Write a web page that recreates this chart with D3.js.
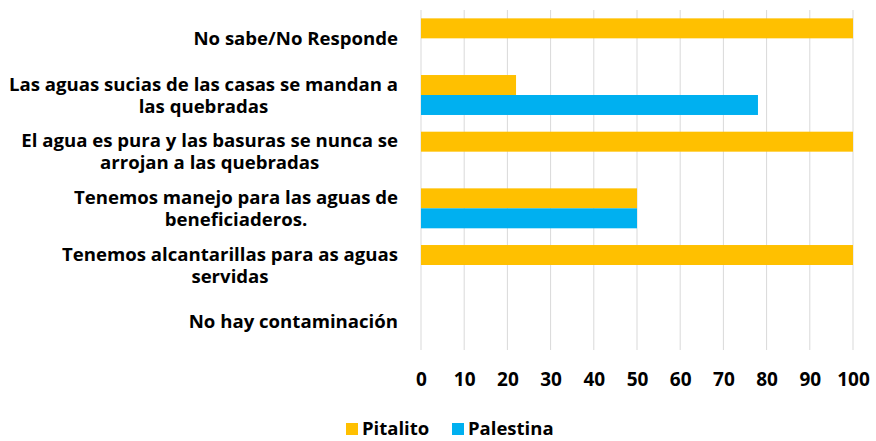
<!DOCTYPE html>
<html>
<head>
<meta charset="utf-8">
<script src="https://cdn.jsdelivr.net/npm/d3@7"></script>
<style>
  body { margin: 0; background: #fff; }
  text { font-family: "Open Sans", sans-serif; font-weight: bold; fill: #000; }
</style>
</head>
<body>
<div id="chart"></div>
<script>
// categories, top to bottom (line breaks as wrapped in the original)
var categories = [
    "No sabe/No Responde",
    "Las aguas sucias de las casas se mandan a\nlas quebradas",
    "El agua es pura y las basuras se nunca se\narrojan a las quebradas",
    "Tenemos manejo para las aguas de\nbeneficiaderos.",
    "Tenemos alcantarillas para as aguas\nservidas",
    "No hay contaminación"
];
var seriesNames = ["Pitalito", "Palestina"];
var pitalito = [100, 22, 100, 50, 100, 0];
var palestina = [0, 78, 0, 50, 0, 0];
var xTicks = [0, 10, 20, 30, 40, 50, 60, 70, 80, 90, 100];
var colors = ["#FFC000", "#00B0F0"];

var W = 876, H = 441;
var margin = {top: 10, right: 23, bottom: 91, left: 421};
var width = W - margin.left - margin.right;
var height = H - margin.top - margin.bottom;
var fontSize = "18.6px";

var svg = d3.select("#chart")
    .append("svg")
    .attr("width", W)
    .attr("height", H);

var g = svg.append("g")
    .attr("transform", `translate(${margin.left},${margin.top})`);

var x = d3.scaleLinear().domain([0, 100]).range([0, width]);
var y = d3.scaleBand().domain(d3.range(categories.length)).range([0, height])
    .paddingInner(0.295).paddingOuter(0.1475);
var ySub = d3.scaleBand().domain([0, 1]).range([0, y.bandwidth()]);

// gridlines
g.selectAll(".grid")
    .data(xTicks)
    .enter()
    .append("line")
    .attr("x1", d => x(d))
    .attr("x2", d => x(d))
    .attr("y1", 0)
    .attr("y2", height)
    .attr("stroke", "#d9d9d9")
    .attr("stroke-width", 1);

// bars
var series = [pitalito, palestina];
series.forEach(function(vals, s) {
    g.selectAll(".bar" + s)
        .data(vals)
        .enter()
        .append("rect")
        .attr("x", x(0))
        .attr("y", (d, i) => y(i) + ySub(s))
        .attr("width", d => x(d) - x(0))
        .attr("height", ySub.bandwidth())
        .attr("fill", colors[s]);
});

// x tick labels
var xAxis = d3.axisBottom(x).tickValues(xTicks).tickSize(0).tickPadding(0);
var ax = g.append("g")
    .attr("transform", `translate(0,${height + 24})`)
    .call(xAxis);
ax.select(".domain").remove();
ax.selectAll("text")
    .attr("dy", "0.35em")
    .attr("y", 5)
    .style("font-size", "19px")
    .style("font-family", "'Open Sans', sans-serif")
    .style("font-weight", "bold");

// category labels (wrapped lines centred on each other, block right-aligned)
var labelRight = margin.left - 23;
var lineH = 22;
categories.forEach(function(c, i) {
    var lines = c.split("\n");
    var cy = margin.top + y(i) + y.bandwidth() / 2;
    var t = svg.append("text")
        .attr("text-anchor", "middle")
        .style("font-size", fontSize);
    lines.forEach(function(l, j) {
        t.append("tspan")
            .attr("y", cy + (j - (lines.length - 1) / 2) * lineH)
            .attr("dy", "0.35em")
            .text(l);
    });
    var maxW = 0;
    t.selectAll("tspan").each(function() {
        maxW = Math.max(maxW, this.getComputedTextLength());
    });
    t.selectAll("tspan").attr("x", labelRight - maxW / 2);
});

// legend
var legend = svg.append("g").attr("transform", "translate(0,429)");
var lx = [346, 452];
seriesNames.forEach(function(n, s) {
    legend.append("rect")
        .attr("x", lx[s])
        .attr("y", -6)
        .attr("width", 12)
        .attr("height", 12)
        .attr("fill", colors[s]);
    legend.append("text")
        .attr("x", lx[s] + 16)
        .attr("y", 0)
        .attr("dy", "0.35em")
        .style("font-size", "18.5px")
        .text(n);
});
</script>
</body>
</html>
